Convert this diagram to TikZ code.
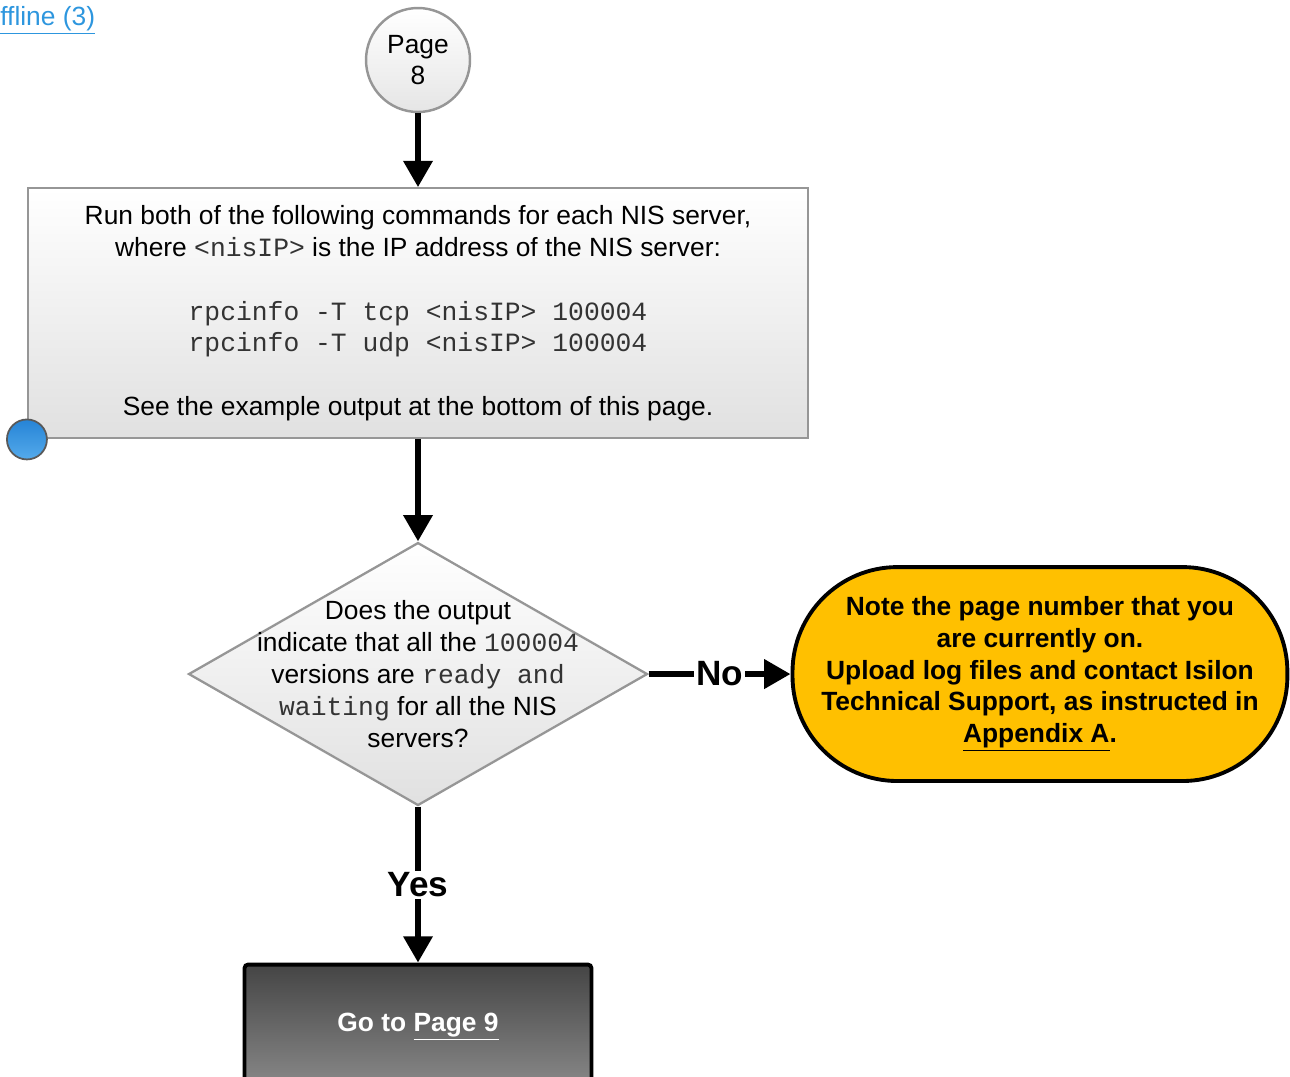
\documentclass[tikz,border=0pt]{standalone}
\usepackage{fontspec}
\setmainfont{Liberation Sans}
\setmonofont{Liberation Mono}
\usepackage{tikz}
\usetikzlibrary{positioning, arrows.meta, shapes.geometric}
\definecolor{linkblue}{RGB}{45,150,222}
\definecolor{warnyellow}{RGB}{255,192,0}
\definecolor{edgegray}{RGB}{150,150,150}
\definecolor{dottop}{RGB}{38,132,214}
\definecolor{dotbottom}{RGB}{84,170,235}
\newcommand{\bodyfont}{\fontsize{15}{18.1}\selectfont}
\newcommand{\code}[1]{\textcolor{black!80}{\texttt{#1}}}
\tikzset{flow/.style={line width=3.6pt, -{Triangle[width=16pt,length=15pt]}}}
\tikzset{pagecircle/.style={circle, draw=edgegray, line width=1.4pt, minimum size=2.08cm, inner sep=0pt, top color=white, bottom color=black!10, align=center, font=\bodyfont}}
\tikzset{process/.style={rectangle, draw=edgegray, line width=1.3pt, minimum width=15.6cm, minimum height=5cm, top color=white, bottom color=black!12, align=center, font=\bodyfont}}
\tikzset{decision/.style={diamond, draw=edgegray, line width=1.3pt, minimum width=9.18cm, minimum height=5.26cm, inner sep=0pt, top color=white, bottom color=black!12}}
\tikzset{stopnode/.style={rectangle, rounded corners=2.1cm, draw=black, line width=2.2pt, minimum width=9.9cm, minimum height=4.28cm, fill=warnyellow, align=center, font=\bodyfont\bfseries}}
\tikzset{gotobox/.style={rectangle, rounded corners=2pt, draw=black, line width=2.2pt, minimum width=6.94cm, minimum height=2.5cm, top color=black!73, bottom color=black!46, text=white, font=\bodyfont\bfseries}}
\tikzset{bluedot/.style={circle, draw=black!65, line width=1pt, minimum size=0.8cm, inner sep=0pt, top color=dottop, bottom color=dotbottom}}
\tikzset{answer/.style={fill=white, inner sep=1pt, font=\fontsize{20}{24}\selectfont\bfseries}}

\begin{document}
\begin{tikzpicture}[x=0.02cm, y=-0.02cm]
  \useasboundingbox (0,0) rectangle (1290,1076);
  \clip (0,0) rectangle (1290,1076);

  \node[anchor=west, inner sep=0pt, text=linkblue, font=\bodyfont] (offline) at (0,20) {\underline{ffline (3)}};

  \node[pagecircle] (page8) at (418,60) {Page\\8};

  \node[process] (runbox) [below=1.48cm of page8] {
    Run both of the following commands for each NIS server,\\
    where \code{<nisIP>} is the IP address of the NIS server:\\[18pt]
    \code{rpcinfo -T tcp <nisIP> 100004}\\
    \code{rpcinfo -T udp <nisIP> 100004}\\[18pt]
    See the example output at the bottom of this page.};

  \node[bluedot] (corner) at (runbox.south west) {};

  \node[decision] (check) [below=2.04cm of runbox, label={[align=center, font=\bodyfont]center:
    Does the output\\
    indicate that all the \code{100004}\\
    versions are \code{ready and}\\
    \code{waiting} for all the NIS\\
    servers?}] {};

  \node[stopnode] (support) [right=2.84cm of check] {
    Note the page number that you\\
    are currently on.\\
    Upload log files and contact Isilon\\
    Technical Support, as instructed in\\
    \underline{Appendix A}.};

  \node[gotobox] (page9) [below=3.12cm of check] {Go to \underline{Page 9}};

  \draw[flow] (page8) -- (runbox);
  \draw[flow] (runbox) -- (check);
  \draw[flow] (check.east) -- node[answer] {No} (support.west);
  \draw[flow] (check.south) -- node[answer] {Yes} (page9.north);

\end{tikzpicture}
\end{document}
